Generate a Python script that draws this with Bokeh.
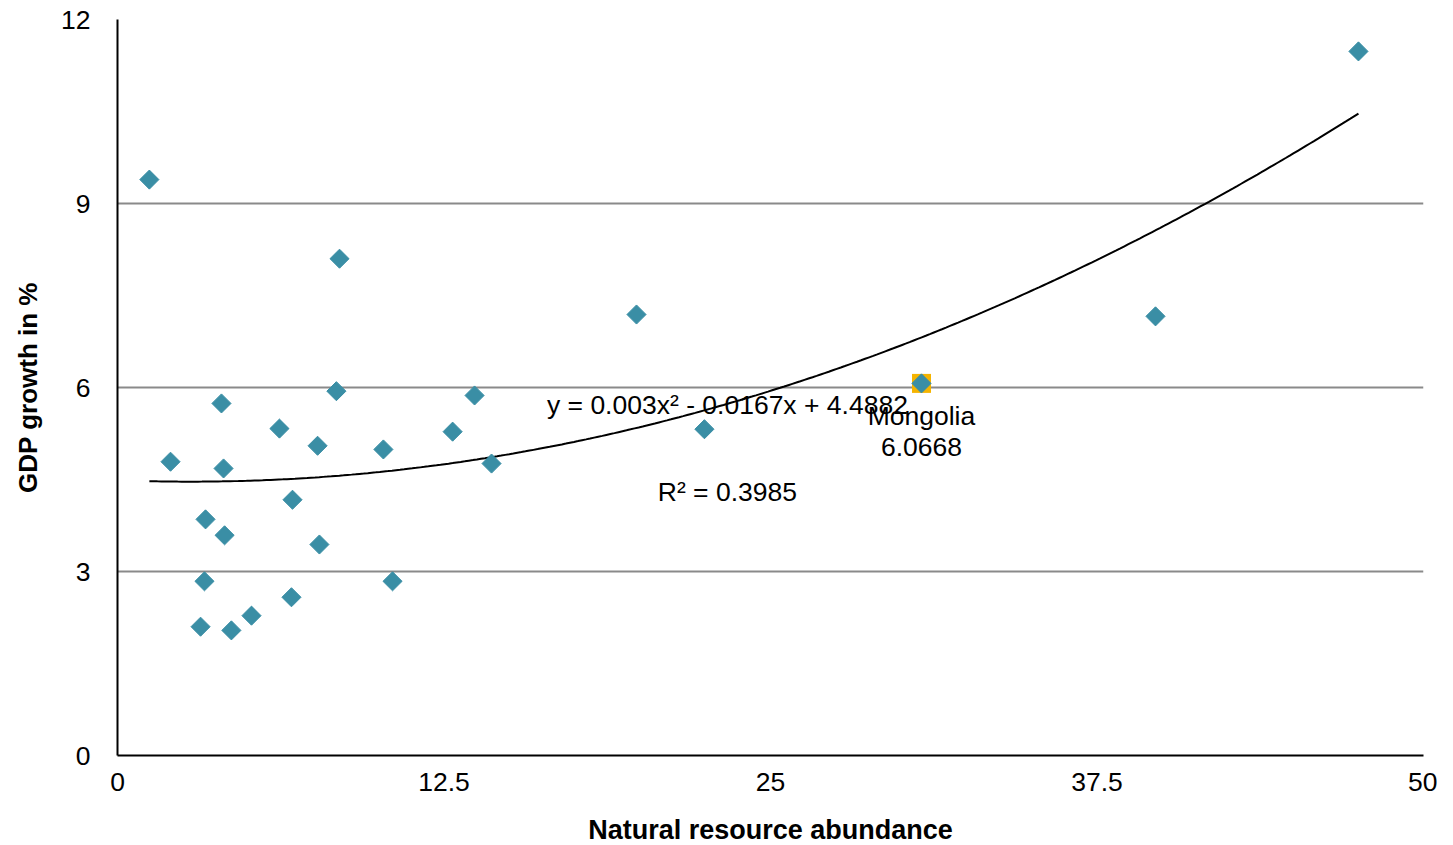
import numpy as np
from bokeh.plotting import figure
from bokeh.models import Range1d, FixedTicker, Label, ColumnDataSource
from bokeh.embed import file_html
from bokeh.resources import INLINE
from bokeh.core.properties import value

# ---- data ----
resource = [1.22, 2.03, 3.37, 3.33, 3.18, 3.98, 4.06, 4.10, 4.36, 5.13,
            6.20, 6.70, 6.66, 7.66, 7.73, 8.38, 8.50, 10.18, 10.53, 12.83,
            13.67, 14.32, 19.87, 22.47, 30.78, 39.74, 47.51]
growth = [9.39, 4.79, 3.85, 2.84, 2.10, 5.74, 4.68, 3.59, 2.04, 2.28,
          5.33, 4.17, 2.58, 5.05, 3.44, 5.94, 8.10, 4.99, 2.84, 5.28,
          5.87, 4.76, 7.19, 5.32, 6.0668, 7.16, 11.48]
highlight_name = ["Mongolia"]
highlight_x = [30.78]
highlight_y = [6.0668]
trend_coef = [0.003, -0.0167, 4.4882]   # y = a x^2 + b x + c
r_squared = 0.3985
x_ticks = [0, 12.5, 25, 37.5, 50]
x_tick_labels = ["0", "12.5", "25", "37.5", "50"]
y_ticks = [0, 3, 6, 9, 12]

FONT = "Liberation Sans"
TEAL = "#3a8ea5"
ORANGE = "#f5b400"
TXT = "26.5px"

p = figure(frame_width=1306, frame_height=736,
           x_range=Range1d(0, 50), y_range=Range1d(0, 12),
           output_backend="svg", toolbar_location=None,
           min_border_left=117, min_border_top=19, min_border_right=14,
           min_border_bottom=60)
p.outline_line_color = None
p.background_fill_color = "white"
p.border_fill_color = "white"

# grid
p.xgrid.grid_line_color = None
p.ygrid.grid_line_color = "#8a8a8a"
p.ygrid.grid_line_width = 2
p.ygrid.ticker = FixedTicker(ticks=y_ticks)

# axes
p.xaxis.ticker = FixedTicker(ticks=x_ticks)
p.xaxis.major_label_overrides = {t: l for t, l in zip(x_ticks, x_tick_labels)}
p.yaxis.ticker = FixedTicker(ticks=y_ticks)
for ax in (p.xaxis[0], p.yaxis[0]):
    ax.axis_line_color = "black"
    ax.axis_line_width = 2
    ax.major_tick_line_color = None
    ax.minor_tick_line_color = None
    ax.major_label_text_font = FONT
    ax.major_label_text_font_size = TXT
    ax.major_label_text_color = "black"
    ax.axis_label_text_font = FONT
    ax.axis_label_text_font_style = "bold"
    ax.axis_label_text_color = "black"

p.xaxis.axis_label = "Natural resource abundance"
p.xaxis.axis_label_text_font_size = "27px"
p.xaxis.major_label_standoff = 11
p.xaxis.axis_label_standoff = 21
p.yaxis.axis_label = "GDP growth in %"
p.yaxis.axis_label_text_font_size = "26px"
p.yaxis.major_label_standoff = 21
p.yaxis.axis_label_standoff = 15

# trend line from the printed polynomial
tx = np.linspace(min(resource), max(resource), 300)
ty = np.polyval(trend_coef, tx)
p.line(tx, ty, line_color="black", line_width=2)

# highlight square behind Mongolia
p.scatter(highlight_x, highlight_y, marker="square", size=19,
          fill_color=ORANGE, line_color=None)

# points
src = ColumnDataSource(dict(x=resource, y=growth))
p.scatter("x", "y", source=src, marker="square", size=13.5, angle=np.pi / 4,
          fill_color=TEAL, line_color=TEAL, line_width=1, line_join="round")

# Mongolia labels
p.text(highlight_x, highlight_y, text=highlight_name, y_offset=33,
       text_align="center", text_baseline="middle",
       text_font=value(FONT), text_font_size=TXT, text_color="black")
p.text(highlight_x, highlight_y, text=[f"{highlight_y[0]:.4f}"], y_offset=64,
       text_align="center", text_baseline="middle",
       text_font=value(FONT), text_font_size=TXT, text_color="black")

# trend equation and R^2
a, b, c = trend_coef
eq = f"y = {a}x\u00b2 - {abs(b)}x + {c}"
p.add_layout(Label(x=23.35, y=5.71, text=eq, text_align="center",
                   text_baseline="middle", text_font=FONT,
                   text_font_size=TXT, text_color="black"))
p.add_layout(Label(x=23.35, y=4.29, text=f"R\u00b2 = {r_squared}",
                   text_align="center", text_baseline="middle",
                   text_font=FONT, text_font_size=TXT,
                   text_color="black"))

open("out.html", "w").write(file_html(p, INLINE))
